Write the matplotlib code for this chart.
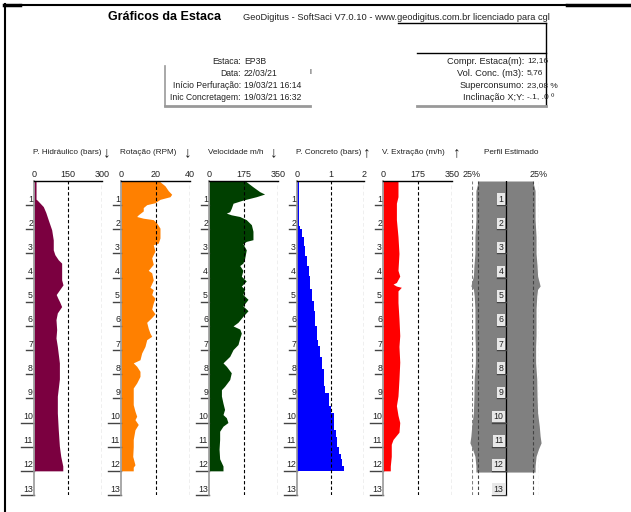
import matplotlib
matplotlib.use("Agg")
import matplotlib.pyplot as plt
from matplotlib import transforms

plt.rcParams['font.family'] = ['Liberation Sans', 'DejaVu Sans']

W, H = 631, 512

# ---- header info ----
title = "Gráficos da Estaca"
software = "GeoDigitus - SoftSaci V7.0.10 - www.geodigitus.com.br licenciado para cgl"
left_labels = ["Estaca:", "Data:", "Início Perfuração:", "Inic Concretagem:"]
left_values = ["EP3B", "22/03/21", "19/03/21 16:14", "19/03/21 16:32"]
right_labels = ["Compr. Estaca(m):", "Vol. Conc. (m3):", "Superconsumo:", "Inclinação X;Y:"]
right_values = ["12,16", "5,76", "23,08 %", "-.1, .0 º"]

# ---- series (depth in m) ----
hid_depth = [0, 0.75, 0.8, 1.06, 1.3, 1.61, 2.02, 2.44, 2.85, 3.05, 3.26, 3.4, 3.68, 4.09,
             4.3, 4.5, 4.7, 4.85, 5.0, 5.2, 5.46, 5.74, 6.15, 6.5, 6.85, 7.53, 8.2, 8.91,
             9.6, 10.29, 10.98, 11.4, 11.8, 12.0]
hid_val = [9, 9, 15, 41, 52, 63, 78, 85, 85, 92, 107, 122, 122, 122,
           128, 113, 98, 105, 113, 122, 103, 97, 100, 97, 103, 112, 112, 103,
           103, 107, 112, 118, 127, 127]

rot_depth = [0, 0.03, 0.2, 0.4, 0.55, 0.65, 0.76, 0.9, 0.98, 1.1, 1.24, 1.4, 1.47, 1.54,
             1.6, 1.74, 1.95, 2.36, 2.57, 2.64, 2.9, 3.18, 3.45, 3.7, 3.8, 4.1, 4.4, 4.5,
             4.7, 4.85, 5.05, 5.3, 5.5, 5.65, 5.85, 6.1, 6.3, 6.43, 6.57, 6.85, 7.12, 7.4,
             7.53, 7.67, 7.88, 8.09, 8.36, 8.57, 8.9, 9.26, 9.53, 9.74, 9.88, 10.08, 10.3,
             10.7, 11.0, 11.4, 11.75, 11.85, 12.0]
rot_val = [22.6, 22.6, 25.5, 27.4, 29.4, 28.4, 22.6, 19.7, 14.9, 12.9, 12.9, 10, 9.1, 12.9,
           18.7, 20.7, 22.6, 22.6, 21.6, 18.7, 19.7, 17.8, 18.7, 15.8, 17.8, 18.7, 16.8, 18.7,
           17.8, 19.7, 18.7, 17.8, 19.7, 17.8, 14.9, 15.8, 16.8, 17.8, 14.9, 13.9, 12, 11,
           7.1, 9.1, 11, 11, 9.1, 7.1, 7.1, 7.1, 8.1, 9.1, 8.1, 10, 8.1,
           7.1, 7.1, 6.8, 8.1, 7.1, 7.1]

vel_depth = [0, 0.03, 0.24, 0.44, 0.54, 0.65, 0.79, 0.92, 1.13, 1.27, 1.33, 1.4, 1.47, 1.6,
             1.81, 2.08, 2.43, 2.5, 2.6, 2.85, 3.2, 3.4, 3.5, 3.7, 3.94, 4.14, 4.35, 4.48,
             4.7, 4.9, 5.17, 5.37, 5.6, 5.85, 6.0, 6.13, 6.3, 6.5, 6.77, 6.98, 7.26, 7.53,
             7.67, 7.94, 8.22, 8.5, 8.64, 8.9, 9.2, 9.46, 9.67, 9.8, 10.0, 10.15, 10.36,
             10.7, 11.1, 11.5, 11.8, 12.0]
vel_val = [189, 189, 223, 257, 282, 240, 172, 122, 113, 105, 88, 113, 156, 189,
           215, 223, 223, 189, 172, 189, 181, 172, 156, 172, 164, 189, 164, 181,
           172, 198, 172, 198, 172, 147, 122, 156, 164, 156, 147, 122, 105, 71,
           88, 113, 105, 79, 63, 63, 71, 79, 71, 88, 96, 71, 54,
           54, 51, 54, 71, 71]

conc_depth = [0, 1.8, 1.88, 2.0, 2.3, 2.7, 3.1, 3.5, 3.94, 4.48, 4.96, 5.4, 6.0, 6.57,
              6.85, 7.3, 7.8, 8.5, 8.78, 9.3, 9.6, 10.3, 10.6, 11.0, 11.3, 11.5, 11.8, 12.0]
conc_val = [0.06, 0.06, 0.1, 0.15, 0.2, 0.25, 0.3, 0.35, 0.4, 0.45, 0.5, 0.55, 0.6, 0.62,
            0.7, 0.75, 0.8, 0.85, 0.95, 1.0, 1.1, 1.15, 1.2, 1.25, 1.3, 1.35, 1.4, 1.4]

ext_depth = [0, 0.65, 0.92, 1.6, 2.3, 3.0, 3.7, 3.94, 4.2, 4.27, 4.35, 4.4, 4.55, 5.03,
             5.7, 6.4, 6.85, 7.5, 8.2, 8.9, 9.3, 9.7, 10.0, 10.4, 10.7, 10.9, 11.4, 11.8, 12.0]
ext_val = [76, 76, 68, 68, 76, 81, 76, 85, 68, 51, 68, 93, 76, 76,
           81, 85, 81, 85, 81, 76, 68, 76, 85, 81, 51, 42, 42, 37, 37]

# estimated profile: radius relative to nominal
perf_depth = [0, 0.4, 0.92, 1.6, 2.3, 3.0, 3.5, 3.94, 4.2, 4.35, 4.48, 4.76, 5.3, 6.4,
              6.85, 7.53, 8.2, 8.9, 9.6, 10.15, 10.56, 10.84, 11.1, 11.4, 11.8, 12.05]
perf_val = [0.975, 1.06, 1.06, 1.06, 1.095, 1.095, 1.13, 1.15, 1.21, 1.24, 1.15, 1.12, 1.095, 1.095,
            1.08, 1.08, 1.12, 1.13, 1.15, 1.21, 1.24, 1.275, 1.18, 1.095, 1.06, 1.06]

panels = [
    ("P. Hidráulico (bars)", "↓", hid_depth, hid_val, 300, ["0", "150", "300"], "#7b0040", 34, 102, 107),
    ("Rotação (RPM)", "↓", rot_depth, rot_val, 40, ["0", "20", "40"], "#ff8000", 121, 190, 188),
    ("Velocidade m/h", "↓", vel_depth, vel_val, 350, ["0", "175", "350"], "#004000", 209, 278, 274),
    ("P. Concreto (bars)", "↑", conc_depth, conc_val, 2, ["0", "1", "2"], "#0000ff", 297, 364, 367),
    ("V. Extração (m/h)", "↑", ext_depth, ext_val, 350, ["0", "175", "350"], "#ff0000", 383, 452, 457),
]

TOP, BOT, DMAX = 181, 495, 13
TXT = '#222222'

fig = plt.figure(figsize=(W / 100, H / 100), dpi=100)

# overlay axes in pixel coordinates for the header
bg = fig.add_axes([0, 0, 1, 1])
bg.set_xlim(0, W)
bg.set_ylim(H, 0)
bg.axis('off')

bg.plot([4, 20], [5, 5], color='black', lw=2.5)
bg.plot([20, 567], [5, 5], color='black', lw=1.5)
bg.plot([567, 631], [5, 5], color='black', lw=2.5)
bg.plot([5, 5], [4, 512], color='black', lw=1.5)

bg.text(164, 17, title, fontsize=9, fontweight='bold', ha='center', va='center')
bg.text(243, 18, software, fontsize=6.7, ha='left', va='center', color=TXT)

# info boxes
bg.plot([165, 165], [66, 106], color='#999999', lw=1.2)
bg.plot([165, 310], [106, 106], color='#999999', lw=2)
bg.plot([398, 546], [23, 23], color='black', lw=1)
bg.plot([546, 546], [23, 106], color='black', lw=1)
bg.plot([417, 546], [53, 53], color='black', lw=1)
bg.plot([417, 546], [106, 106], color='#999999', lw=2)
bg.text(310, 73, "I", fontsize=5, ha='center', va='center')

rows_y = [61, 73, 86, 98]
for y, lab, val in zip(rows_y, left_labels, left_values):
    bg.text(241, y, lab, fontsize=6.2, ha='right', va='center', color=TXT)
    bg.text(244, y, val, fontsize=6.2, ha='left', va='center', color=TXT)
for y, lab, val in zip(rows_y, right_labels, right_values):
    bg.text(524, y, lab, fontsize=6.7, ha='right', va='center', color=TXT)
    bg.text(527, y, val, fontsize=6.0, ha='left', va='center', color=TXT)


def add_panel(x0, x1):
    ax = fig.add_axes([x0 / W, 1 - BOT / H, (x1 - x0) / W, (BOT - TOP) / H])
    ax.set_ylim(DMAX, 0)
    ax.patch.set_visible(False)
    return ax


def depth_labels(ax, width_px, base, gap_px, boxed=False):
    trans = transforms.blended_transform_factory(ax.transAxes, ax.transData)
    for d in range(1, DMAX + 1):
        lab = str(d)
        kw = {}
        if boxed:
            kw['bbox'] = dict(boxstyle='square,pad=0.15', fc='#e8e8e8', ec='none')
        ax.text(base - gap_px / width_px, d - 0.06, lab, transform=trans, fontsize=6.3,
                ha='right', va='bottom', color=TXT, clip_on=False, **kw)
        w = 4.5 * len(lab) + 4
        ax.plot([base - w / width_px, base], [d, d], transform=trans, color='#444444',
                lw=1, clip_on=False)


for name, arrow, dep, val, vmax, ticks, color, x0, x1, ax_arrow in panels:
    ax = add_panel(x0, x1)
    ax.set_xlim(0, vmax)
    ax.fill_betweenx(dep, 0, val, color=color, lw=0,
                     step='post' if name.startswith("P. Concreto") else None)
    ax.axvline(vmax / 2, color='black', ls=(0, (3, 2)), lw=0.8)
    ax.axvline(vmax, color='#808080', ls=(0, (3, 2)), lw=0.9)
    for s in ['right', 'bottom']:
        ax.spines[s].set_visible(False)
    ax.spines['top'].set_color('black')
    ax.spines['top'].set_linewidth(1)
    ax.spines['left'].set_color('#999999')
    ax.spines['left'].set_linewidth(1.2)
    ax.xaxis.tick_top()
    ax.set_xticks([0, vmax / 2, vmax])
    ax.set_xticklabels(ticks)
    ax.tick_params(axis='x', length=0, pad=1.5, labelsize=6.5, labelcolor=TXT)
    ax.set_yticks([])
    depth_labels(ax, x1 - x0, 0, 1)
    bg.text(x0 - 1, 153, name, fontsize=5.9, ha='left', va='center', color=TXT)
    bg.text(ax_arrow, 152, arrow, fontsize=11, ha='center', va='center', color=TXT)

# estimated profile
ax = add_panel(472, 539)
ax.set_xlim(-1.2, 1.2)
neg = [-v for v in perf_val]
ax.fill_betweenx(perf_depth, neg, perf_val, color='#808080', lw=0, clip_on=False)
for xv, c in [(-1.2, '#808080'), (1.2, '#808080'), (-1.0, '#444444'), (1.0, '#444444')]:
    ax.axvline(xv, color=c, ls=(0, (3, 2)), lw=0.8)
ax.axvline(0, color='black', lw=0.9)
for s in ax.spines.values():
    s.set_visible(False)
ax.xaxis.tick_top()
ax.set_xticks([-1.2, 1.2])
ax.set_xticklabels(["25%", "25%"])
ax.tick_params(axis='x', length=0, pad=1.5, labelsize=6.5, labelcolor=TXT)
ax.set_yticks([])
depth_labels(ax, 539 - 472, 0.5, 2, boxed=True)
bg.text(511, 153, "Perfil Estimado", fontsize=5.9, ha='center', va='center', color=TXT)

fig.savefig("out.png", dpi=100)
